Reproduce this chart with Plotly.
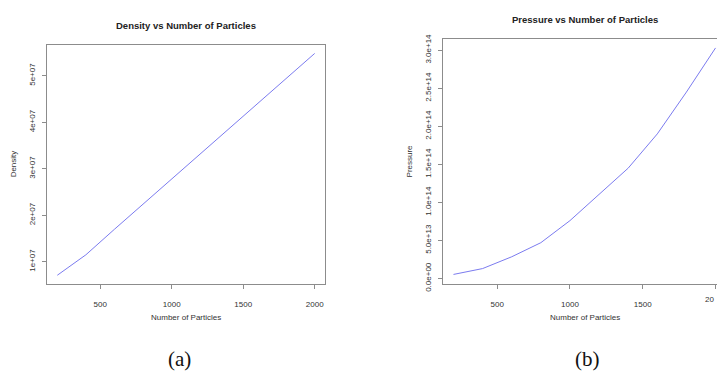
import plotly.graph_objects as go

particles = [200, 400, 600, 800, 1000, 1200, 1400, 1600, 1800, 2000]
density = [0.71e7, 1.15e7, 1.70e7, 2.24e7, 2.78e7, 3.32e7, 3.86e7, 4.40e7, 4.94e7, 5.48e7]
pressure = [0.53e13, 1.30e13, 2.85e13, 4.70e13, 7.60e13, 11.0e13, 14.5e13, 19.0e13, 24.5e13, 30.3e13]

x_ticks = [500, 1000, 1500, 2000]
dens_ticks = [1e7, 2e7, 3e7, 4e7, 5e7]
dens_labels = ["1e+07", "2e+07", "3e+07", "4e+07", "5e+07"]
pres_ticks = [0, 5e13, 1e14, 1.5e14, 2e14, 2.5e14, 3e14]
pres_labels = ["0.0e+00", "5.0e+13", "1.0e+14", "1.5e+14", "2.0e+14", "2.5e+14", "3.0e+14"]

W, H = 717, 379
LINE = "#7b7bef"
AX = "#8c8c8c"
TXT = "#333333"
FONT = "Liberation Sans, Arial, sans-serif"

def px(x):
    return x / W

def py(y):
    return 1 - y / H

fig = go.Figure()
fig.add_trace(go.Scatter(x=particles, y=density, mode="lines",
                         line=dict(color=LINE, width=1), xaxis="x", yaxis="y",
                         showlegend=False, hoverinfo="skip"))
fig.add_trace(go.Scatter(x=particles, y=pressure, mode="lines",
                         line=dict(color=LINE, width=1), xaxis="x2", yaxis="y2",
                         showlegend=False, hoverinfo="skip"))

common_x = dict(showgrid=False, zeroline=False, showline=True, linecolor=AX,
                linewidth=1, ticks="outside", ticklen=4, tickcolor=AX,
                tickvals=x_ticks, tickfont=dict(family=FONT, size=8, color=TXT),
                ticklabelstandoff=8, fixedrange=True)
common_y = dict(showgrid=False, zeroline=False, showline=True, linecolor=AX,
                linewidth=1, ticks="outside", ticklen=4, tickcolor=AX,
                tickangle=-90, tickfont=dict(family=FONT, size=8, color=TXT),
                ticklabelstandoff=4, fixedrange=True)

fig.update_layout(
    width=W, height=H,
    margin=dict(l=0, r=0, t=0, b=0),
    paper_bgcolor="white", plot_bgcolor="white",
    xaxis=dict(common_x, domain=[px(47), px(325)], range=[128, 2072],
               anchor="y", mirror=True),
    yaxis=dict(common_y, domain=[py(289), py(41)], range=[0.52e7, 5.67e7],
               anchor="x", mirror=True, tickvals=dens_ticks, ticktext=dens_labels),
    xaxis2=dict(common_x, domain=[px(443), 1.0], range=[128, 2010],
                anchor="y2", mirror=True),
    yaxis2=dict(common_y, domain=[py(289), py(35)], range=[-0.074e14, 3.15e14],
                anchor="x2", mirror=False, tickvals=pres_ticks, ticktext=pres_labels),
)

ann = [
    dict(text="<b>Density vs Number of Particles</b>", x=px(186), y=py(21),
         font=dict(family=FONT, size=9.5, color="#222222")),
    dict(text="<b>Pressure vs Number of Particles</b>", x=px(585), y=py(15),
         font=dict(family=FONT, size=9.5, color="#222222")),
    dict(text="Number of Particles", x=px(186), y=py(324),
         font=dict(family=FONT, size=8, color=TXT)),
    dict(text="Number of Particles", x=px(585), y=py(324),
         font=dict(family=FONT, size=8, color=TXT)),
    dict(text="Density", x=px(13), y=py(164), textangle=-90,
         font=dict(family=FONT, size=8, color=TXT)),
    dict(text="Pressure", x=px(409), y=py(162), textangle=-90,
         font=dict(family=FONT, size=8, color=TXT)),
    dict(text="(a)", x=px(179), y=py(367),
         font=dict(family="Liberation Serif, Times New Roman, serif", size=21, color="#111111")),
    dict(text="(b)", x=px(587), y=py(367),
         font=dict(family="Liberation Serif, Times New Roman, serif", size=21, color="#111111")),
]
for a in ann:
    a.update(xref="paper", yref="paper", showarrow=False,
             xanchor="center", yanchor="middle")
# partially visible "2000" tick label at the cut-off right edge of panel (b)
ann.append(dict(text="20", xref="x2", x=x_ticks[-1], yref="paper", y=py(305),
                xanchor="right", yanchor="middle", showarrow=False,
                font=dict(family=FONT, size=8, color=TXT)))
fig.update_layout(annotations=ann)

fig.write_html("out.html")
